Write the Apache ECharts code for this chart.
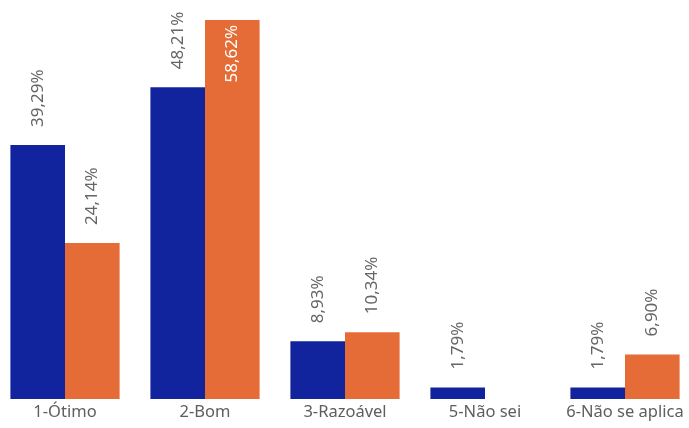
<!DOCTYPE html>
<html><head><meta charset="utf-8">
<script src="https://cdn.jsdelivr.net/npm/echarts@6/dist/echarts.min.js"></script>
<style>html,body{margin:0;padding:0;background:#fff}#c{width:689px;height:428px}</style>
</head><body><div id="c"></div>
<script>
const categories = ['1-Ótimo','2-Bom','3-Razoável','5-Não sei','6-Não se aplica'];
const seriesA = [39.29, 48.21, 8.93, 1.79, 1.79];
const seriesB = [24.14, 58.62, 10.34, null, 6.90];
const FONT = '"Noto Sans", "Open Sans", sans-serif';
function fmt(p){ return p.value.toFixed(2).replace('.', ',') + '%'; }
function outLabel(){
  return {show:true, position:'top', rotate:90, align:'left', verticalAlign:'middle', distance:18,
    color:'#666666', fontSize:17, fontFamily:FONT, formatter:fmt};
}
const chart = echarts.init(document.getElementById('c'));
chart.setOption({
  animation:false,
  grid:{left:-5, width:700, top:11, bottom:29, containLabel:false, outerBoundsMode:'none'},
  xAxis:{type:'category', data:categories, axisLine:{show:false}, axisTick:{show:false},
    axisLabel:{color:'#605E5C', fontSize:16.5, fontFamily:FONT, margin:5, interval:0, hideOverlap:false}},
  yAxis:{type:'value', min:0, max:60, show:false, splitLine:{show:false}},
  series:[
    {type:'bar', data:seriesA, barGap:0, barCategoryGap:'22%', itemStyle:{color:'#12239E'}, label:outLabel()},
    {type:'bar', data:seriesB.map((v,i)=> v===null?null:(v>55?{value:v,label:{position:'insideTop', align:'right', distance:5, color:'#ffffff'}}:v)),
      itemStyle:{color:'#E66C37'}, label:outLabel()}
  ]
});
</script></body></html>
